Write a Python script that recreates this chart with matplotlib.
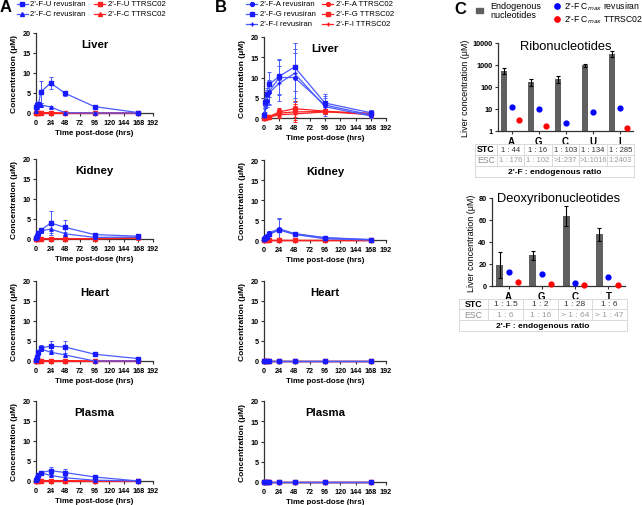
import matplotlib
matplotlib.use("Agg")
import matplotlib.pyplot as plt
from matplotlib.lines import Line2D
from matplotlib.patches import Rectangle
import numpy as np

plt.rcParams['font.family'] = ['Liberation Sans', 'DejaVu Sans']

W, H = 642, 506

# ---------------- data ----------------
times = [0.5, 2, 4, 8, 24, 48, 96, 168]
tissues = ["Liver", "Kidney", "Heart", "Plasma"]

# Panel A: 2'-F-U and 2'-F-C
A_U_rev = {"Liver": [1.5, 2.0, 2.2, 5.3, 7.5, 4.9, 1.6, 0.1],
           "Kidney": [0.3, 0.8, 1.5, 2.2, 4.0, 2.9, 1.1, 0.7],
           "Heart": [0.3, 1.0, 2.2, 3.3, 3.7, 3.5, 1.7, 0.6],
           "Plasma": [0.3, 0.8, 1.4, 2.1, 2.6, 2.1, 1.0, 0.0]}
A_U_rev_err = {"Liver": [0.3, 0.5, 0.6, 2.7, 1.5, 0.6, 0.4, 0.1],
               "Kidney": [0.2, 0.3, 0.5, 0.6, 3.0, 1.9, 0.4, 0.3],
               "Heart": [0.2, 0.4, 0.5, 0.8, 1.3, 1.6, 0.3, 0.2],
               "Plasma": [0.2, 0.3, 0.3, 0.3, 0.8, 0.8, 0.4, 0.1]}
A_C_rev = {"Liver": [0.5, 1.5, 2.3, 2.0, 1.5, 0.05, 0.0, 0.0],
           "Kidney": [0.2, 0.6, 1.3, 2.0, 2.5, 1.3, 0.4, 0.5],
           "Heart": [0.2, 1.0, 2.0, 3.0, 2.2, 1.5, 0.0, 0.0],
           "Plasma": [0.2, 0.5, 1.3, 2.0, 1.4, 0.8, 0.2, 0.0]}
A_C_rev_err = {"Liver": [0.2, 0.4, 0.5, 0.5, 0.2, 0.05, 0.0, 0.0],
               "Kidney": [0.1, 0.3, 0.4, 0.5, 1.0, 0.5, 0.2, 0.2],
               "Heart": [0.1, 0.3, 0.5, 0.6, 0.5, 0.5, 0.0, 0.0],
               "Plasma": [0.1, 0.2, 0.3, 0.3, 0.3, 0.3, 0.1, 0.0]}
A_U_ttr = {"Liver": [0.1, 0.1, 0.1, 0.1, 0.1, 0.05, 0.05, 0.05],
           "Kidney": [0.1, 0.1, 0.1, 0.1, 0.1, 0.1, 0.1, 0.4],
           "Heart": [0.1, 0.1, 0.1, 0.1, 0.1, 0.1, 0.05, 0.05],
           "Plasma": [0.1, 0.1, 0.1, 0.1, 0.1, 0.1, 0.05, 0.0]}
A_C_ttr = {"Liver": [0.0, 0.0, 0.0, 0.0, 0.0, 0.0, 0.0, 0.0],
           "Kidney": [0.0, 0.0, 0.0, 0.0, 0.0, 0.0, 0.0, 0.2],
           "Heart": [0.0, 0.0, 0.0, 0.0, 0.0, 0.0, 0.0, 0.0],
           "Plasma": [0.0, 0.0, 0.0, 0.0, 0.0, 0.0, 0.0, 0.0]}

# Panel B: 2'-F-A, G, I
B_A_rev = {"Liver": [1.0, 3.5, 4.2, 6.5, 10.0, 10.0, 3.2, 0.8],
           "Kidney": [0.3, 0.8, 1.0, 1.8, 2.8, 1.6, 0.6, 0.1],
           "Heart": [0.0] * 8, "Plasma": [0.0] * 8}
B_G_rev = {"Liver": [0.8, 4.0, 6.0, 8.3, 10.3, 12.6, 3.7, 1.3],
           "Kidney": [0.2, 0.5, 0.8, 1.5, 2.6, 1.5, 0.5, 0.1],
           "Heart": [0.0] * 8, "Plasma": [0.0] * 8}
B_I_rev = {"Liver": [0.5, 2.5, 5.5, 6.2, 8.6, 11.0, 2.8, 0.5],
           "Kidney": [0.1, 0.4, 0.6, 1.4, 2.5, 1.4, 0.3, 0.0],
           "Heart": [0.0] * 8, "Plasma": [0.0] * 8}
B_rev_err = {"Liver": [0.3, 1.0, 1.5, 3.0, 4.3, 6.0, 2.2, 0.6],
             "Kidney": [0.1, 0.3, 0.4, 0.5, 2.8, 0.4, 0.3, 0.1],
             "Heart": [0.0] * 8, "Plasma": [0.0] * 8}
B_A_ttr = {"Liver": [0.0, 0.1, 0.2, 0.3, 1.2, 1.5, 1.6, 0.8],
           "Kidney": [0.0] * 8, "Heart": [0.0] * 8, "Plasma": [0.0] * 8}
B_G_ttr = {"Liver": [0.0, 0.1, 0.2, 0.3, 1.5, 2.3, 1.7, 1.0],
           "Kidney": [0.0] * 8, "Heart": [0.0] * 8, "Plasma": [0.0] * 8}
B_I_ttr = {"Liver": [0.0, 0.1, 0.1, 0.2, 0.8, 1.0, 1.5, 1.2],
           "Kidney": [0.0] * 8, "Heart": [0.0] * 8, "Plasma": [0.0] * 8}
B_ttr_err = {"Liver": [0.0, 0.1, 0.2, 0.3, 0.9, 2.0, 0.6, 0.8],
             "Kidney": [0.0] * 8, "Heart": [0.0] * 8, "Plasma": [0.0] * 8}

# Panel C
ribo_cats = ["A", "G", "C", "U", "I"]
ribo_endo = [550, 170, 230, 1000, 3200]
ribo_endo_err = [150, 55, 75, 150, 1000]
ribo_rev = [12.5, 10.5, 2.3, 7.5, 11.5]
ribo_ttr = [3.2, 1.7, np.nan, np.nan, 1.4]
ribo_stc = ["1 : 44", "1 : 16", "1 : 103", "1 : 134", "1 : 285"]
ribo_esc = ["1 : 176", "1 : 102", ">1:237", ">1:1016", "1:2403"]

deoxy_cats = ["A", "G", "C", "T"]
deoxy_endo = [19, 28, 64, 47]
deoxy_endo_err = [12, 4, 9, 6]
deoxy_rev = [13, 11, 2.5, 8]
deoxy_ttr = [3.5, 2.0, 0.5, 0.5]
deoxy_stc = ["1 : 1.5", "1 : 2", "1 : 28", "1 : 6"]
deoxy_esc = ["1 : 6", "1 : 16", "> 1 : 64", "> 1 : 47"]

# ---------------- styling ----------------
BLUE_L = "#4a5cff"
BLUE_M = "#1a1aff"
RED = "#ff2020"
SP = "#333333"
TICK_FS = 5.2
XLAB_FS = 5.7
YLAB_FS = 6.0
TITLE_FS = 8.2

fig = plt.figure(figsize=(W / 100, H / 100), dpi=100)


def ax_px(l, t, r, b):
    return fig.add_axes([l / W, 1 - b / H, (r - l) / W, (b - t) / H])


def fx(x):
    return x / W


def fy(y):
    return 1 - y / H


def style_time_axis(ax, title):
    ax.set_xlim(0, 192)
    ax.set_ylim(0, 20)
    ax.set_xticks(np.arange(0, 193, 24))
    ax.set_yticks([0, 5, 10, 15, 20])
    for s in ["top", "right"]:
        ax.spines[s].set_visible(False)
    for s in ["left", "bottom"]:
        ax.spines[s].set_color(SP)
        ax.spines[s].set_linewidth(0.9)
    ax.tick_params(axis="both", length=2.5, width=0.8, pad=1.5, labelsize=TICK_FS, colors=SP)
    for lbl in ax.get_xticklabels() + ax.get_yticklabels():
        lbl.set_fontweight("bold")
        lbl.set_color("black")
    ax.set_xlabel("Time post-dose (hrs)", fontsize=XLAB_FS, fontweight="bold", labelpad=2.5)
    ax.set_ylabel("Concentration (\u03bcM)", fontsize=YLAB_FS, fontweight="bold", labelpad=3)
    ax.text(0.5, 0.93, title, transform=ax.transAxes, ha="center", va="top",
            fontsize=TITLE_FS, fontweight="bold")
    ax.patch.set_alpha(0)


def series(ax, y, err, color_l, color_m, marker, ms):
    ax.errorbar(times, y, yerr=err, color=color_l, lw=0.9, marker=marker, ms=ms,
                mfc=color_m, mec=color_m, ecolor=color_l, elinewidth=0.7,
                capsize=1.5, capthick=0.7, clip_on=False, zorder=3)


A_rows = [(34, 114), (160, 240), (282, 362), (402, 482)]
B_rows = [(38, 119), (161, 241), (282, 362), (402, 483)]

zeros = [0.0] * 8
for tissue, (t, b) in zip(tissues, A_rows):
    ax = ax_px(36, t, 153, b)
    series(ax, A_C_ttr[tissue], zeros, RED, RED, "^", 2.5)
    series(ax, A_U_ttr[tissue], zeros, RED, RED, "s", 2.5)
    series(ax, A_C_rev[tissue], A_C_rev_err[tissue], BLUE_L, BLUE_M, "^", 2.5)
    series(ax, A_U_rev[tissue], A_U_rev_err[tissue], BLUE_L, BLUE_M, "s", 2.5)
    style_time_axis(ax, tissue)

for tissue, (t, b) in zip(tissues, B_rows):
    ax = ax_px(264, t, 386, b)
    series(ax, B_I_ttr[tissue], B_ttr_err[tissue], RED, RED, "+", 3)
    series(ax, B_A_ttr[tissue], B_ttr_err[tissue], RED, RED, "o", 2.5)
    series(ax, B_G_ttr[tissue], B_ttr_err[tissue], RED, RED, "s", 2.5)
    series(ax, B_I_rev[tissue], B_rev_err[tissue], BLUE_L, BLUE_M, "+", 3)
    series(ax, B_A_rev[tissue], B_rev_err[tissue], BLUE_L, BLUE_M, "o", 2.5)
    series(ax, B_G_rev[tissue], B_rev_err[tissue], BLUE_L, BLUE_M, "s", 2.5)
    style_time_axis(ax, tissue)

# legends A and B (manual placement)
LEG_FS = 5.6


def leg_item(x0, x1, y, text, color_l, color_m, marker, ms):
    fig.add_artist(Line2D([fx(x0), fx(x1)], [fy(y), fy(y)], color=color_l, lw=0.9,
                          transform=fig.transFigure))
    fig.add_artist(Line2D([fx((x0 + x1) / 2)], [fy(y)], marker=marker, ms=ms, mfc=color_m,
                          mec=color_m, lw=0, transform=fig.transFigure))
    fig.text(fx(x1 + 2.5), fy(y), text, ha="left", va="center", fontsize=LEG_FS)


A_leg_labels = ["2'-F-U revusiran", "2'-F-C revusiran", "2'-F-U TTRSC02", "2'-F-C TTRSC02"]
A_leg_style = [(BLUE_L, BLUE_M, "s"), (BLUE_L, BLUE_M, "^"), (RED, RED, "s"), (RED, RED, "^")]
A_leg_pos = [(17, 5), (17, 15), (94, 5), (94, 15)]
for lab, (cl, cm, mk), (x, y) in zip(A_leg_labels, A_leg_style, A_leg_pos):
    leg_item(x, x + 11, y, lab, cl, cm, mk, 2.8)

B_leg_labels = ["2'-F-A revusiran", "2'-F-G revusiran", "2'-F-I revusiran",
                "2'-F-A TTRSC02", "2'-F-G TTRSC02", "2'-F-I TTRSC02"]
B_leg_style = [(BLUE_L, BLUE_M, "o"), (BLUE_L, BLUE_M, "s"), (BLUE_L, BLUE_M, "+"),
               (RED, RED, "o"), (RED, RED, "s"), (RED, RED, "+")]
B_leg_pos = [(246, 5), (246, 15), (246, 25), (322, 5), (322, 15), (322, 25)]
for lab, (cl, cm, mk), (x, y) in zip(B_leg_labels, B_leg_style, B_leg_pos):
    leg_item(x, x + 11, y, lab, cl, cm, mk, 2.8)

# panel letters
fig.text(fx(0), fy(0), "A", fontsize=12, fontweight="bold", va="top", ha="left")
fig.text(fx(215), fy(0), "B", fontsize=12, fontweight="bold", va="top", ha="left")
fig.text(fx(454), fy(2), "C", fontsize=12, fontweight="bold", va="top", ha="left")

# ---------------- Panel C ----------------
GRAY = "#606060"
BLUE_D = "#0000ff"
RED_D = "#ff0000"


def style_c(ax, cats, title, title_y):
    for s in ["top", "right"]:
        ax.spines[s].set_visible(False)
    for s in ["left", "bottom"]:
        ax.spines[s].set_color(SP)
        ax.spines[s].set_linewidth(0.9)
    ax.set_xticks(range(len(cats)))
    ax.set_xticklabels(cats, fontsize=7, fontweight="bold")
    ax.tick_params(axis="x", length=2.5, width=0.8, pad=1, colors=SP)
    ax.tick_params(axis="y", which="major", length=2.5, width=0.8, pad=1.5, labelsize=5.3, colors=SP)
    ax.tick_params(axis="y", which="minor", length=0)
    for lbl in ax.get_xticklabels() + ax.get_yticklabels():
        lbl.set_color("black")
    for lbl in ax.get_yticklabels():
        lbl.set_fontweight("bold")
    ax.set_ylabel("Liver concentration (\u03bcM)", fontsize=6.5, labelpad=2)
    ax.text(0.5, title_y, title, transform=ax.transAxes, ha="center", va="center", fontsize=9.3)
    ax.set_xlim(-0.5, len(cats) - 0.5)
    ax.patch.set_alpha(0)


def c_plot(ax, endo, err, rev, ttr, off_bar, off_red, bw):
    x = np.arange(len(endo))
    ax.bar(x + off_bar, endo, width=bw, color=GRAY, zorder=2)
    ax.errorbar(x + off_bar, endo, yerr=err, fmt="none", ecolor="black", elinewidth=0.8,
                capsize=1.5, capthick=0.8, zorder=3)
    ax.scatter(x, rev, s=12, color=BLUE_D, zorder=4, clip_on=False)
    ax.scatter(x + off_red, ttr, s=12, color=RED_D, zorder=4, clip_on=False)


axR = ax_px(498, 44, 633, 132)
axR.set_yscale("log")
c_plot(axR, ribo_endo, ribo_endo_err, ribo_rev, ribo_ttr, -0.29, 0.28, 0.21)
axR.set_ylim(1, 10000)
axR.set_yticks([1, 10, 100, 1000, 10000])
axR.set_yticklabels(["1", "10", "100", "1000", "10000"])
style_c(axR, ribo_cats, "Ribonucleotides", 0.97)

axD = ax_px(492, 199, 625, 287)
c_plot(axD, deoxy_endo, deoxy_endo_err, deoxy_rev, deoxy_ttr, -0.27, 0.28, 0.21)
axD.set_ylim(0, 80)
axD.set_yticks([0, 20, 40, 60, 80])
style_c(axD, deoxy_cats, "Deoxyribonucleotides", 1.0)


def draw_table(left, right, col_edges, top, row_h, stc, esc, fs):
    lc = "#d9d9d9"
    lw = 0.7
    ys = [top + i * row_h for i in range(4)]
    for y in ys:
        fig.add_artist(Line2D([fx(left), fx(right)], [fy(y), fy(y)], color=lc, lw=lw))
    for x in [left] + col_edges + [right]:
        fig.add_artist(Line2D([fx(x), fx(x)], [fy(ys[0]), fy(ys[2])], color=lc, lw=lw))
    for x in [left, right]:
        fig.add_artist(Line2D([fx(x), fx(x)], [fy(ys[2]), fy(ys[3])], color=lc, lw=lw))
    cx = [(a + b) / 2 for a, b in zip([left] + col_edges, col_edges + [right])]
    fig.text(fx(cx[0]), fy(ys[0] + row_h / 2), "STC", ha="center", va="center",
             fontsize=6.3, fontweight="bold", color="black")
    fig.text(fx(cx[0]), fy(ys[1] + row_h / 2), "ESC", ha="center", va="center",
             fontsize=6.3, color="#8c8c8c")
    for c, s, e in zip(cx[1:], stc, esc):
        fig.text(fx(c), fy(ys[0] + row_h / 2), s, ha="center", va="center", fontsize=fs, color="#333333")
        fig.text(fx(c), fy(ys[1] + row_h / 2), e, ha="center", va="center", fontsize=fs, color="#9a9a9a")
    fig.text(fx((left + right) / 2), fy(ys[2] + row_h / 2), "2'-F : endogenous ratio",
             ha="center", va="center", fontsize=6, fontweight="bold", color="black")


draw_table(475, 634, [497, 524, 552, 579, 607], 144.5, 11, ribo_stc, ribo_esc, 5.5)
draw_table(459, 627, [488, 523, 558, 592], 299.5, 10.7, deoxy_stc, deoxy_esc, 6.0)

# legend C
fig.add_artist(Rectangle((fx(476), fy(14)), (483 - 476) / W, 5 / H, color=GRAY, transform=fig.transFigure))
fig.text(fx(490), fy(2), "Endogenous\nnucleotides", ha="left", va="top", fontsize=6.5, linespacing=1.05)
fig.add_artist(Line2D([fx(557)], [fy(7)], marker="o", ms=3.8, color=BLUE_D, lw=0, transform=fig.transFigure))
fig.add_artist(Line2D([fx(557)], [fy(20)], marker="o", ms=3.8, color=RED_D, lw=0, transform=fig.transFigure))
fig.text(fx(564), fy(7), "2'-F C$_{max}$ revusiran", ha="left", va="center", fontsize=6.2)
fig.text(fx(564), fy(20), "2'-F C$_{max}$ TTRSC02", ha="left", va="center", fontsize=6.2)

fig.savefig("out.png", dpi=100)
